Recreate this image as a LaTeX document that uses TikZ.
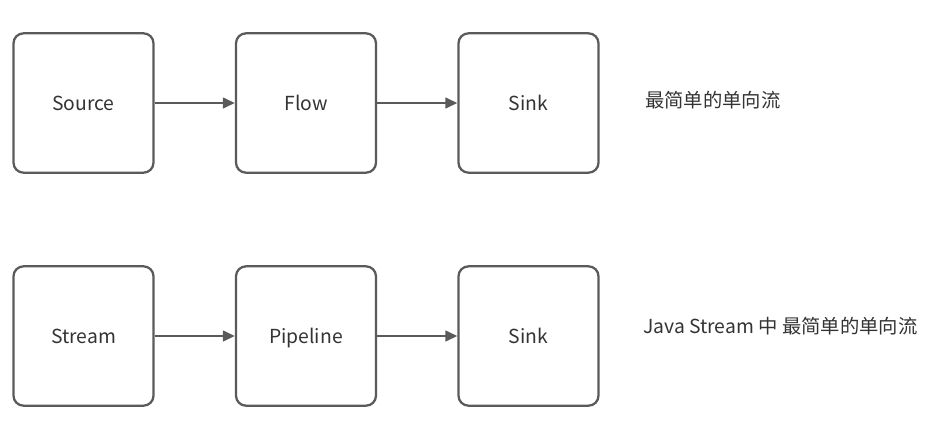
\documentclass[tikz,border=0pt]{standalone}
\usepackage{fontspec}
\setmainfont{Noto Sans CJK SC}
\usepackage{tikz}
\usetikzlibrary{arrows.meta,positioning}
\definecolor{edgegrey}{HTML}{5A5A5A}
\definecolor{textgrey}{HTML}{333333}
\tikzset{
  stage/.style={draw=edgegrey,line width=1.7pt,rounded corners=7.5pt,
    minimum width=105pt,minimum height=104.5pt,text=textgrey,
    text height=1.3em,text depth=0.25em,font=\fontsize{14.5}{17}\selectfont},
  pipe/.style={draw=edgegrey,line width=1.7pt,-{Triangle[length=9pt,width=8pt]}},
  caption/.style={anchor=west,text=textgrey,font=\fontsize{14.5}{17}\selectfont,inner sep=0pt}
}

\begin{document}
\begin{tikzpicture}[x=0.75pt,y=-0.75pt]
\useasboundingbox (0,0) rectangle (928,433);
% simplest flow
\node[stage] (source) at (83.5,103) {Source};
\node[stage] (flow) at (306,103) {Flow};
\node[stage] (sink) at (528.5,103) {Sink};
\draw[pipe] (source) -- (flow);
\draw[pipe] (flow) -- (sink);
\node[caption] (note1) at (645,100) {最简单的单向流};
% java stream
\node[stage] (stream) at (83.5,336) {Stream};
\node[stage] (pipeline) at (306,336) {Pipeline};
\node[stage] (sink2) at (528.5,336) {Sink};
\draw[pipe] (stream) -- (pipeline);
\draw[pipe] (pipeline) -- (sink2);
\node[caption] (note2) at (643,326) {Java Stream 中 最简单的单向流};
\end{tikzpicture}
\end{document}
